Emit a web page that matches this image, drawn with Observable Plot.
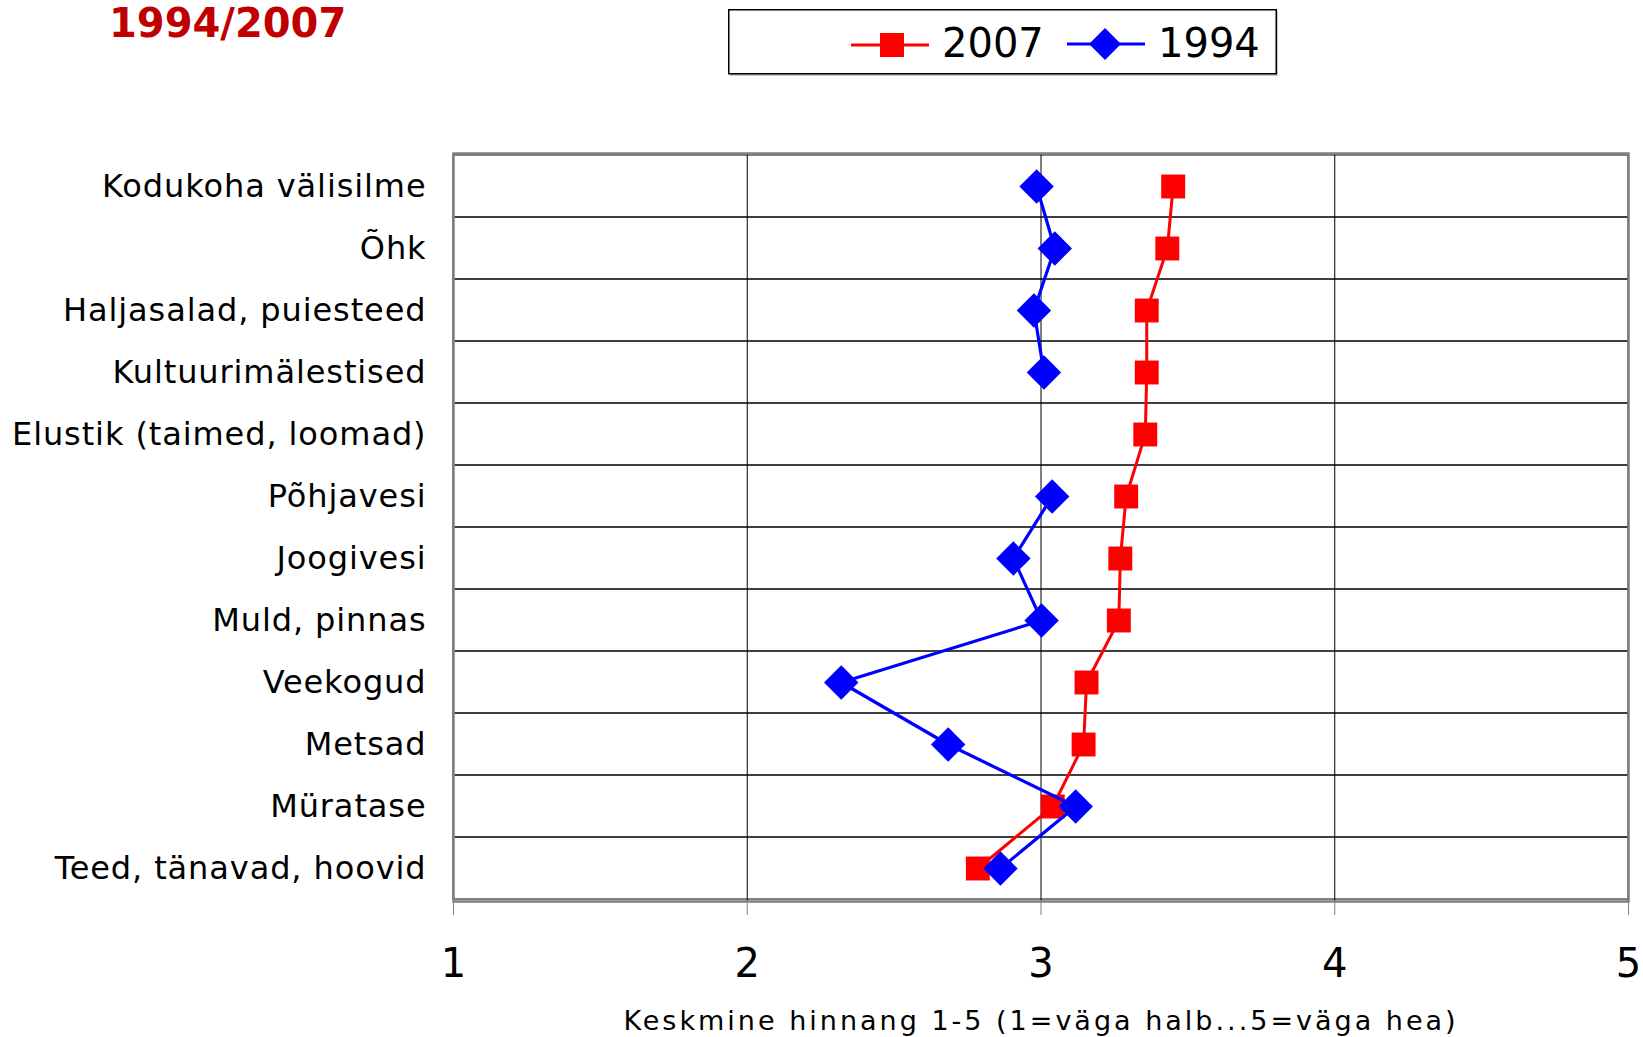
<!DOCTYPE html>
<html><head><meta charset="utf-8">
<script src="https://cdn.jsdelivr.net/npm/d3@7"></script>
<script src="https://cdn.jsdelivr.net/npm/@observablehq/plot@0.6"></script>
<style>
body{margin:0;background:#fff;font-family:"DejaVu Sans",sans-serif;}
#header{position:relative;width:1643px;height:80px;overflow:visible;}
#title{position:absolute;left:109px;top:7px;font-size:40px;font-weight:bold;color:#C00000;line-height:32px;white-space:nowrap;}
#legend{position:absolute;left:728px;top:9px;overflow:visible;}
#chart svg{display:block;}
</style></head><body>
<div id="header"><div id="title"></div><svg id="legend" width="552" height="68"></svg></div>
<div id="chart"></div>
<script>
const titleText = "1994/2007";
const categories = [
  "Kodukoha välisilme",
  "Õhk",
  "Haljasalad, puiesteed",
  "Kultuurimälestised",
  "Elustik (taimed, loomad)",
  "Põhjavesi",
  "Joogivesi",
  "Muld, pinnas",
  "Veekogud",
  "Metsad",
  "Müratase",
  "Teed, tänavad, hoovid"
];
const values2007 = [3.45, 3.43, 3.36, 3.36, 3.355, 3.29, 3.27, 3.265, 3.155, 3.145, 3.04, 2.785];
const values1994 = [2.985, 3.047, 2.976, 3.01, NaN, 3.038, 2.906, 3.002, 2.32, 2.684, 3.118, 2.862];
const seriesNames = ["2007", "1994"];
const seriesColors = ["#FF0000", "#0000FF"];
const seriesSymbols = ["square", "diamond2"];
const xTicks = [1, 2, 3, 4, 5];
const xLabel = "Keskmine hinnang 1-5 (1=väga halb...5=väga hea)";

document.getElementById("title").textContent = titleText;

const rows2007 = categories.map((c, i) => ({category: c, value: values2007[i]}));
const rows1994 = categories.map((c, i) => ({category: c, value: values1994[i]}));

const chart = Plot.plot({
  width: 1643,
  height: 957,
  marginTop: 73,
  marginBottom: 136,
  marginLeft: 453,
  marginRight: 15,
  style: {fontFamily: "DejaVu Sans", background: "#fff", color: "#000"},
  x: {domain: [xTicks[0], xTicks[xTicks.length - 1]]},
  y: {type: "band", domain: categories, padding: 0},
  marks: [
    Plot.barX(categories, {y: d => d, x1: xTicks[0], x2: xTicks[xTicks.length - 1], fill: "none", stroke: "#000", strokeWidth: 1}),
    Plot.ruleX(xTicks.slice(1, -1), {stroke: "#000", strokeWidth: 1}),
    Plot.frame({stroke: "#7f7f7f", strokeWidth: 2.5}),
    Plot.axisX({ticks: xTicks, tickSize: 14, tickPadding: 33, fontSize: 40, tickFormat: d3.format("d"), label: null, stroke: "#808080"}),
    Plot.axisY({tickSize: 0, tickPadding: 27, fontSize: 32, label: null}),
    Plot.text([xLabel], {frameAnchor: "bottom", lineAnchor: "bottom", dy: 128, fontSize: 27, fill: "#000"}),
    Plot.line(rows2007, {x: "value", y: "category", stroke: seriesColors[0], strokeWidth: 3}),
    Plot.dot(rows2007, {x: "value", y: "category", symbol: seriesSymbols[0], r: 13.5, fill: seriesColors[0], stroke: "none"}),
    Plot.line(rows1994, {x: "value", y: "category", stroke: seriesColors[1], strokeWidth: 3.2}),
    Plot.dot(rows1994, {x: "value", y: "category", symbol: seriesSymbols[1], r: 15.5, fill: seriesColors[1], stroke: "none"})
  ]
});
d3.select(chart).selectAll("g[aria-label='text'] text").attr("letter-spacing", 3);
d3.select(chart).selectAll("g[aria-label='y-axis tick label'] text").attr("letter-spacing", 0.9);
document.getElementById("chart").appendChild(chart);

// Legend
const lg = d3.select("#legend");
lg.append("rect").attr("x", 2).attr("y", 2).attr("width", 548).attr("height", 65).attr("fill", "#c8c8c8");
lg.append("rect").attr("x", 0.75).attr("y", 0.75).attr("width", 547.5).attr("height", 64).attr("fill", "#fff").attr("stroke", "#000").attr("stroke-width", 1.5);
const legendItems = [
  {name: seriesNames[0], color: seriesColors[0], sym: d3.symbolSquare, size: 24 * 24, lx: 123, cx: 164, cy: 36, tx: 214},
  {name: seriesNames[1], color: seriesColors[1], sym: d3.symbolDiamond2, size: Math.pow(16 / 0.62625, 2), lx: 339, cx: 377, cy: 35, tx: 430}
];
legendItems.forEach(it => {
  lg.append("line").attr("x1", it.lx).attr("x2", it.lx + 78).attr("y1", it.cy).attr("y2", it.cy).attr("stroke", it.color).attr("stroke-width", 3);
  lg.append("path").attr("d", d3.symbol(it.sym, it.size)()).attr("transform", `translate(${it.cx},${it.cy})`).attr("fill", it.color);
  lg.append("text").attr("x", it.tx).attr("y", 48).attr("font-size", 40).attr("font-family", "DejaVu Sans").attr("fill", "#000").text(it.name);
});
</script>
</body></html>
